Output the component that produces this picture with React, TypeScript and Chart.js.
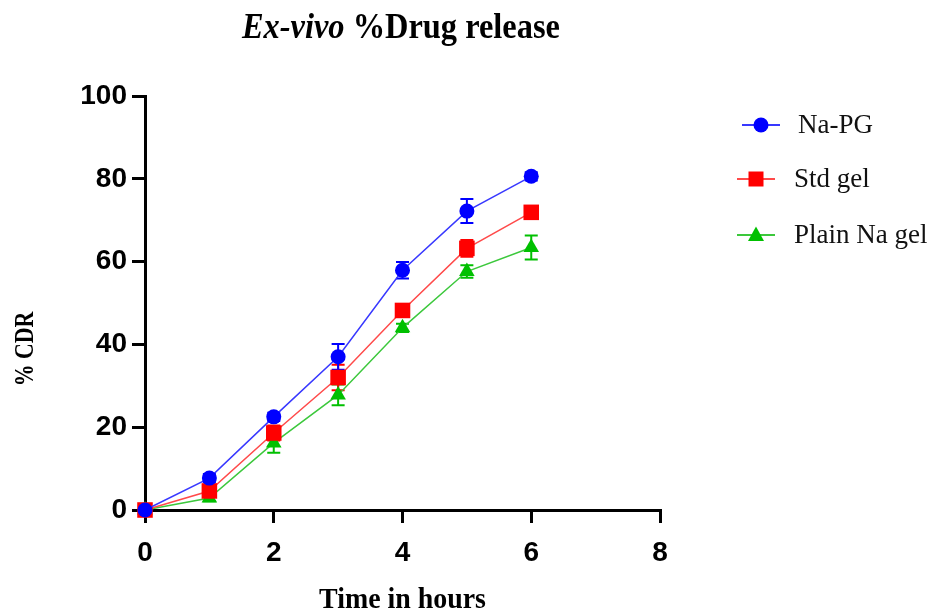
import React, { useEffect, useRef } from "react";
import { Chart, registerables } from "chart.js";

Chart.register(...registerables);

const hours = [0, 1, 2, 3, 4, 5, 6];
const naPG = [0, 7.7, 22.5, 37.0, 57.9, 72.2, 80.6];
const naPGErr = [0.5, 1, 1, 3.1, 2, 2.9, 1];
const stdGel = [0, 4.6, 18.6, 32.0, 48.2, 63.2, 71.9];
const stdGelErr = [0.5, 1, 1.8, 3.1, 1, 2, 1];
const plainNaGel = [0, 2.9, 16.2, 27.8, 44.0, 57.6, 63.4];
const plainNaGelErr = [0.5, 0.8, 2.4, 2.5, 1, 1.5, 2.9];

const xTicks = [0, 2, 4, 6, 8];
const yTicks = [0, 20, 40, 60, 80, 100];

const seriesNames = ["Na-PG", "Std gel", "Plain Na gel"];
const seriesValues = [naPG, stdGel, plainNaGel];
const seriesErrors = [naPGErr, stdGelErr, plainNaGelErr];
const lineColors = ["#3838ff", "#ff4a4a", "#3cc83c"];
const markerColors = ["#0000ff", "#ff0000", "#00c000"];
const markerStyles = ["circle", "rect", "triangle"];
const markerRadii = [7.5, 11, 9];

const titleItalic = "Ex-vivo ";
const titleBold = "%Drug release";
const xTitle = "Time in hours";
const yTitle = "% CDR";

const SERIF = "'Liberation Serif', 'Times New Roman', serif";
const SANS = "'Liberation Sans Narrow', 'Liberation Sans', Arial, sans-serif";

const errorBarsPlugin = {
  id: "errorBars",
  beforeDatasetsDraw(chart: any) {
    const ctx = chart.ctx;
    const xs = chart.scales.x;
    const ys = chart.scales.y;
    for (let d = seriesValues.length - 1; d >= 0; d--) {
      ctx.save();
      ctx.strokeStyle = markerColors[d];
      ctx.lineWidth = 2;
      seriesValues[d].forEach((v, i) => {
        const e = seriesErrors[d][i];
        const x = xs.getPixelForValue(hours[i]);
        const yt = ys.getPixelForValue(v + e);
        const yb = ys.getPixelForValue(Math.max(0, v - e));
        ctx.beginPath();
        ctx.moveTo(x, yt);
        ctx.lineTo(x, yb);
        ctx.moveTo(x - 6.5, yt);
        ctx.lineTo(x + 6.5, yt);
        ctx.moveTo(x - 6.5, yb);
        ctx.lineTo(x + 6.5, yb);
        ctx.stroke();
      });
      ctx.restore();
    }
  },
};

const textPlugin = {
  id: "customTexts",
  afterDraw(chart: any) {
    const ctx = chart.ctx;
    const area = chart.chartArea;
    ctx.save();
    ctx.fillStyle = "#000";

    // Title
    ctx.save();
    ctx.translate(242, 38);
    ctx.scale(0.9, 1);
    ctx.textBaseline = "alphabetic";
    ctx.textAlign = "left";
    ctx.font = `italic bold 36px ${SERIF}`;
    ctx.fillText(titleItalic, 0, 0);
    const w1 = ctx.measureText(titleItalic).width;
    ctx.font = `bold 36px ${SERIF}`;
    ctx.fillText(titleBold, w1, 0);
    ctx.restore();

    // X title
    ctx.save();
    ctx.translate((area.left + area.right) / 2, 608);
    ctx.scale(0.93, 1);
    ctx.font = `bold 30px ${SERIF}`;
    ctx.textAlign = "center";
    ctx.textBaseline = "alphabetic";
    ctx.fillText(xTitle, 0, 0);
    ctx.restore();

    // Y title
    ctx.save();
    ctx.translate(33, 349);
    ctx.rotate(-Math.PI / 2);
    ctx.scale(0.78, 1);
    ctx.font = `bold 28px ${SERIF}`;
    ctx.textAlign = "center";
    ctx.textBaseline = "alphabetic";
    ctx.fillText(yTitle, 0, 0);
    ctx.restore();

    // Legend
    const rowY = [125, 179, 235];
    const lineX = [[742, 780], [737, 775], [737, 775]];
    const textX = [798, 794, 794];
    seriesNames.forEach((name, d) => {
      const y = rowY[d];
      const [x1, x2] = lineX[d];
      ctx.save();
      ctx.strokeStyle = lineColors[d];
      ctx.lineWidth = 2;
      ctx.beginPath();
      ctx.moveTo(x1, y);
      ctx.lineTo(x2, y);
      ctx.stroke();
      ctx.restore();
      ctx.save();
      ctx.fillStyle = markerColors[d];
      const cx = (x1 + x2) / 2;
      ctx.beginPath();
      if (markerStyles[d] === "circle") {
        ctx.arc(cx, y, 7.5, 0, Math.PI * 2);
      } else if (markerStyles[d] === "rect") {
        ctx.rect(cx - 7.5, y - 7.5, 15, 15);
      } else {
        ctx.moveTo(cx, y - 8.5);
        ctx.lineTo(cx + 8, y + 6);
        ctx.lineTo(cx - 8, y + 6);
        ctx.closePath();
      }
      ctx.fill();
      ctx.restore();
      ctx.save();
      ctx.fillStyle = "#111";
      ctx.font = `27px ${SERIF}`;
      ctx.textAlign = "left";
      ctx.textBaseline = "middle";
      ctx.fillText(name, textX[d], y + 1);
      ctx.restore();
    });
    ctx.restore();
  },
};

export default function App() {
  const canvasRef = useRef<HTMLCanvasElement | null>(null);

  useEffect(() => {
    const canvas = canvasRef.current;
    if (!canvas) return;
    const datasets = seriesNames.map((name, d) => ({
      label: name,
      data: hours.map((h, i) => ({ x: h, y: seriesValues[d][i] })),
      borderColor: lineColors[d],
      backgroundColor: markerColors[d],
      pointBackgroundColor: markerColors[d],
      pointBorderColor: markerColors[d],
      pointBorderWidth: 0,
      pointStyle: markerStyles[d],
      pointRadius: markerRadii[d],
      pointHoverRadius: markerRadii[d],
      borderWidth: 1.5,
      tension: 0,
      fill: false,
      clip: false as any,
    }));

    const tickFont = { family: SANS, size: 28, weight: "bold" as const };

    const chart = new Chart(canvas, {
      type: "line",
      data: { datasets },
      options: {
        animation: false,
        responsive: false,
        maintainAspectRatio: false,
        devicePixelRatio: 1,
        layout: { padding: { top: 96, right: 275, bottom: 0, left: 0 } },
        plugins: {
          legend: { display: false },
          title: { display: false },
          tooltip: { enabled: false },
        },
        scales: {
          x: {
            type: "linear",
            min: 0,
            max: 8,
            afterBuildTicks: (s: any) => {
              s.ticks = xTicks.map((v) => ({ value: v }));
            },
            afterFit: (s: any) => {
              s.height = 101;
            },
            ticks: { color: "#000", font: tickFont, padding: 13, maxRotation: 0 },
            grid: {
              display: true,
              drawOnChartArea: false,
              drawTicks: true,
              tickLength: 13,
              color: "#000",
              lineWidth: 3,
            },
            border: { display: true, color: "#000", width: 3 },
          },
          y: {
            type: "linear",
            min: 0,
            max: 100,
            afterBuildTicks: (s: any) => {
              s.ticks = yTicks.map((v) => ({ value: v }));
            },
            afterFit: (s: any) => {
              s.width = 145;
            },
            ticks: { color: "#000", font: tickFont, padding: 5 },
            grid: {
              display: true,
              drawOnChartArea: false,
              drawTicks: true,
              tickLength: 13,
              color: "#000",
              lineWidth: 3,
            },
            border: { display: true, color: "#000", width: 3 },
          },
        },
      },
      plugins: [errorBarsPlugin, textPlugin],
    });
    return () => chart.destroy();
  }, []);

  return (
    <div style={{ position: "absolute", left: 0, top: 0, width: 935, height: 611, background: "#fff" }}>
      <canvas ref={canvasRef} width={935} height={611} />
    </div>
  );
}
